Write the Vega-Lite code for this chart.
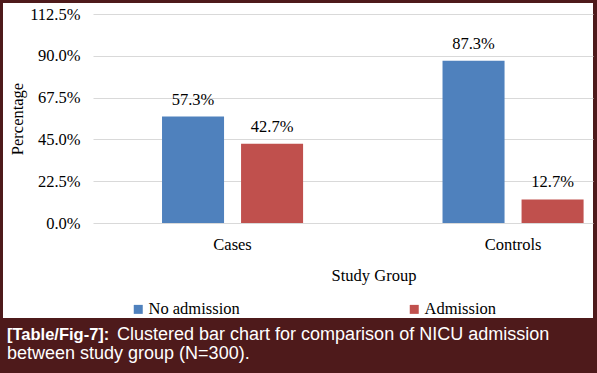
{
  "$schema": "https://vega.github.io/schema/vega-lite/v6.json",
  "width": 590,
  "height": 315,
  "autosize": {"type": "none"},
  "padding": {"left": 3, "top": 3, "right": 4, "bottom": 55},
  "background": "#4e1a1b",
  "view": {"fill": "white", "stroke": null},
  "title": {
    "text": "[Table/Fig-7]:",
    "subtitle": ["\u200b\u00a0\u00a0\u00a0\u00a0\u00a0\u00a0\u00a0\u00a0\u00a0\u00a0\u00a0\u00a0\u00a0\u00a0\u00a0\u00a0\u00a0\u00a0\u00a0\u00a0\u00a0\u00a0Clustered bar chart for comparison of NICU admission", "between study group (N=300)."],
    "orient": "bottom",
    "anchor": "start",
    "frame": "group",
    "offset": 9,
    "dx": 4,
    "font": "Liberation Sans",
    "fontSize": 16.5,
    "fontWeight": "bold",
    "color": "white",
    "subtitleFont": "Liberation Sans",
    "subtitleFontSize": 18,
    "subtitleColor": "white",
    "subtitleLineHeight": 19,
    "subtitlePadding": -18
  },
  "data": {
    "values": [
      {"group": "Cases", "status": "No admission", "value": 0.573},
      {"group": "Cases", "status": "Admission", "value": 0.427},
      {"group": "Controls", "status": "No admission", "value": 0.873},
      {"group": "Controls", "status": "Admission", "value": 0.127}
    ]
  },
  "encoding": {
    "x": {
      "field": "group",
      "type": "nominal",
      "sort": ["Cases", "Controls"],
      "scale": {"range": [90, 590], "paddingInner": 0.2175, "paddingOuter": 0},
      "axis": {
        "orient": "bottom",
        "offset": -95,
        "labelAngle": 0,
        "labelOffset": 29.8,
        "labelPadding": 13,
        "labelFont": "Liberation Serif",
        "labelFontSize": 16.5,
        "labelColor": "#000000",
        "ticks": false,
        "domain": false,
        "grid": false,
        "title": "Study Group",
        "titleFont": "Liberation Serif",
        "titleFontSize": 16.5,
        "titleFontWeight": "normal",
        "titleColor": "#000000",
        "titleX": 370.5,
        "titleY": 44
      }
    },
    "xOffset": {
      "field": "status",
      "type": "nominal",
      "sort": ["No admission", "Admission"],
      "scale": {"paddingInner": 0.2152, "paddingOuter": 0.4962, "align": 0.88}
    },
    "y": {
      "field": "value",
      "type": "quantitative",
      "scale": {"domain": [0, 1.125], "range": [220, 11], "nice": false, "zero": true},
      "axis": {
        "values": [0, 0.225, 0.45, 0.675, 0.9, 1.125],
        "format": ".1%",
        "offset": -90,
        "ticks": false,
        "domain": false,
        "grid": true,
        "gridColor": "#d9d9d9",
        "gridWidth": 1,
        "labelPadding": 13,
        "labelFont": "Liberation Serif",
        "labelFontSize": 16.5,
        "labelColor": "#000000",
        "title": "Percentage",
        "titleFont": "Liberation Serif",
        "titleFontSize": 16.5,
        "titleFontWeight": "normal",
        "titleColor": "#000000",
        "titleX": -68,
        "titleBaseline": "bottom"
      }
    }
  },
  "layer": [
    {
      "mark": {"type": "bar"},
      "encoding": {
        "color": {
          "field": "status",
          "type": "nominal",
          "sort": ["No admission", "Admission"],
          "scale": {"domain": ["No admission", "Admission"], "range": ["#4F81BD", "#C0504D"]},
          "legend": {
            "orient": "none",
            "legendX": 127,
            "legendY": 298,
            "direction": "horizontal",
            "columns": 2,
            "columnPadding": 166,
            "title": null,
            "symbolType": "square",
            "symbolSize": 81,
            "symbolStrokeWidth": 0,
            "symbolOpacity": 1,
            "labelFont": "Liberation Serif",
            "labelFontSize": 16.5,
            "labelColor": "#000000",
            "labelOffset": 2,
            "padding": 0
          }
        }
      }
    },
    {
      "mark": {"type": "text", "baseline": "alphabetic", "dy": -12, "font": "Liberation Serif", "fontSize": 16.5, "color": "#000000"},
      "encoding": {
        "text": {"field": "value", "type": "quantitative", "format": ".1%"}
      }
    }
  ]
}
